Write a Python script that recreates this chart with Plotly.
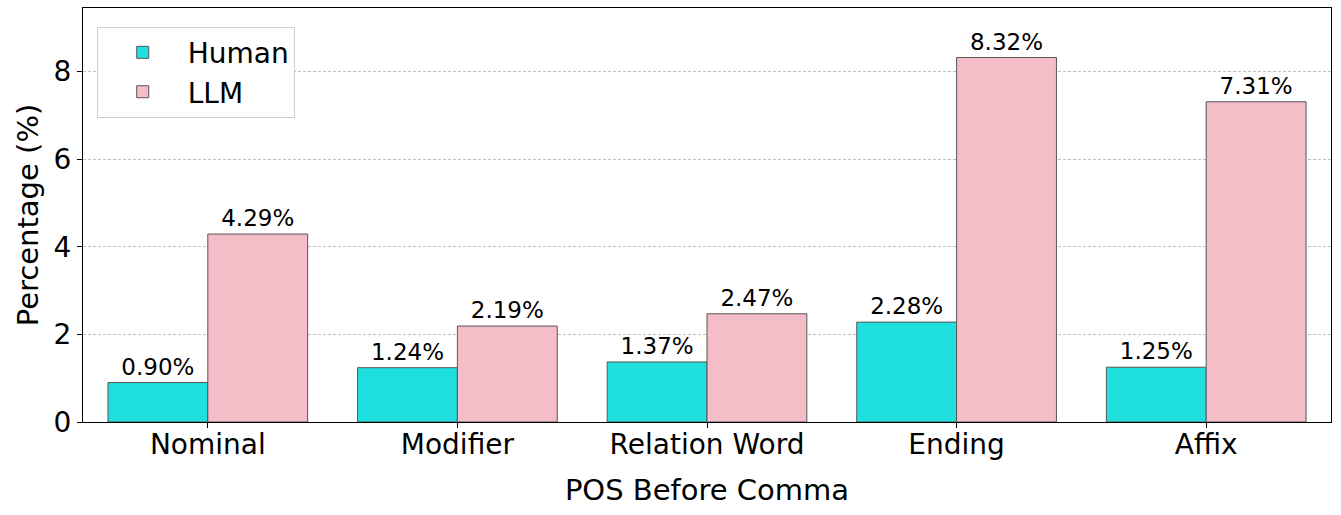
import plotly.graph_objects as go

categories = ["Nominal", "Modifier", "Relation Word", "Ending", "Affix"]
human_pct = [0.90, 1.24, 1.37, 2.28, 1.25]
llm_pct = [4.29, 2.19, 2.47, 8.32, 7.31]
y_ticks = [0, 2, 4, 6, 8]

_font = "DejaVu Sans, Liberation Sans, sans-serif"

fig = go.Figure()
fig.add_trace(go.Bar(
    x=categories, y=human_pct, name="Human",
    marker=dict(color="#20e0df", line=dict(color="#555555", width=1)),
    text=[f"{v:.2f}%" for v in human_pct], textposition="outside",
    textfont=dict(size=23, color="black", family=_font), cliponaxis=False,
))
fig.add_trace(go.Bar(
    x=categories, y=llm_pct, name="LLM",
    marker=dict(color="#f5bdc7", line=dict(color="#555555", width=1)),
    text=[f"{v:.2f}%" for v in llm_pct], textposition="outside",
    textfont=dict(size=23, color="black", family=_font), cliponaxis=False,
))

fig.update_layout(
    width=1341, height=515,
    margin=dict(l=83, r=10, t=8, b=93, autoexpand=False),
    paper_bgcolor="white", plot_bgcolor="white",
    font=dict(family=_font, color="black", size=28),
    barmode="group", bargap=0.2, bargroupgap=0,
    uniformtext=dict(minsize=23, mode="show"),
    legend=dict(
        x=0.011, y=0.955, xanchor="left", yanchor="top",
        bgcolor="white", bordercolor="#d0d0d0", borderwidth=1,
        font=dict(size=28), itemwidth=80, tracegroupgap=4,
    ),
)
fig.update_xaxes(
    range=[-0.5, 4.5], showline=True, mirror=True, linecolor="black", linewidth=1,
    ticks="outside", ticklen=5, tickcolor="black", showgrid=False, automargin=False,
    ticklabelstandoff=-8,
    title=dict(text="POS Before Comma", font=dict(size=29), standoff=20),
)
fig.update_yaxes(
    range=[0, 9.45], tickvals=y_ticks, showline=True, mirror=True,
    linecolor="black", linewidth=1, ticks="outside", ticklen=5, tickcolor="black",
    showgrid=True, gridcolor="#c0c0c0", griddash="3px,2px", gridwidth=0.8,
    layer="above traces", zeroline=False, automargin=False,
    title=dict(text="Percentage (%)", font=dict(size=29), standoff=6),
)

fig.write_html("out.html", config={"displayModeBar": False},
               post_script="document.body.style.margin='0';")
